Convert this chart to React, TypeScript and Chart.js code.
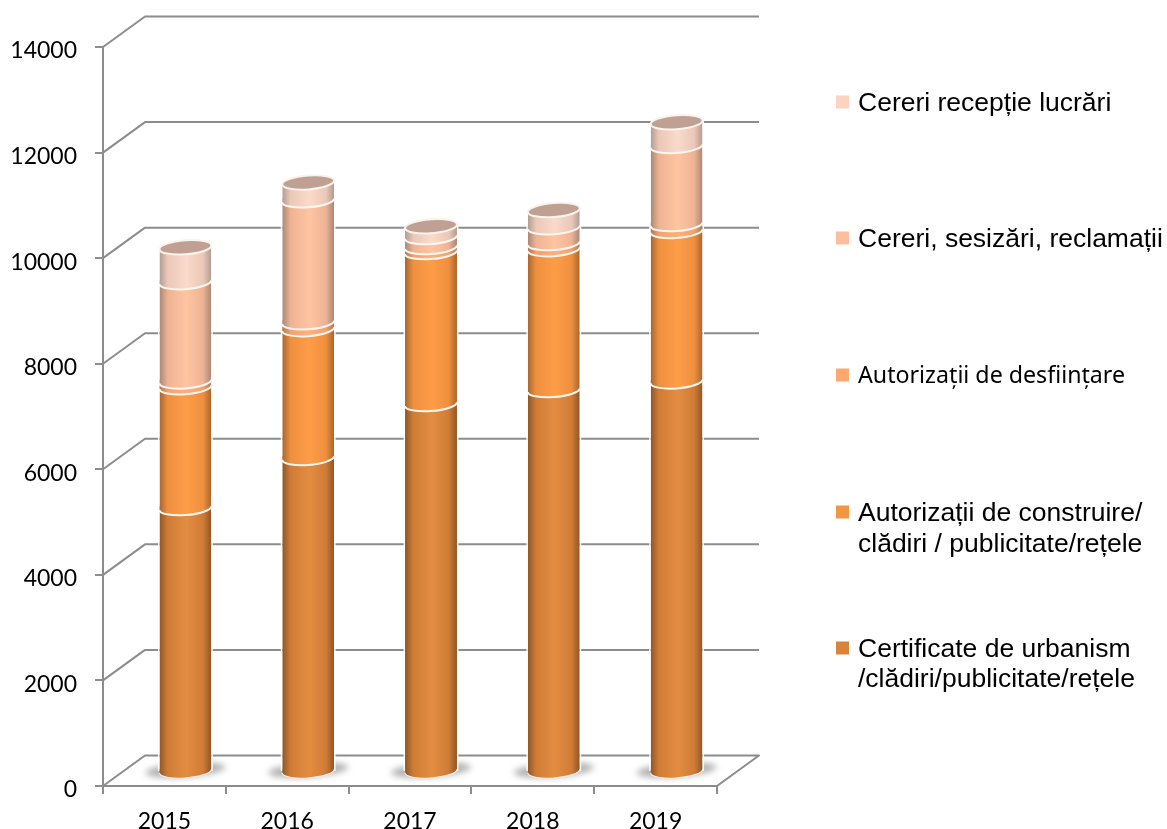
import React, { useEffect, useRef } from "react";
import { Chart, registerables } from "chart.js";

Chart.register(...registerables);

const years = ["2015", "2016", "2017", "2018", "2019"];
const yTickStep = 2000;
const yMax = 14000;

const certificate = [5000, 5950, 6970, 7235, 7400];
const construire = [2290, 2440, 2880, 2670, 2850];
const desfiintare = [110, 130, 95, 115, 130];
const sesizari = [1880, 2310, 190, 300, 1480];
const receptie = [660, 340, 205, 325, 450];

const seriesLabels = [
  "Certificate de urbanism\n/clădiri/publicitate/rețele",
  "Autorizații de construire/\nclădiri / publicitate/rețele",
  "Autorizații de desființare",
  "Cereri, sesizări, reclamații",
  "Cereri recepție lucrări",
];
const seriesValues = [certificate, construire, desfiintare, sesizari, receptie];

const legendColors = ["#D9843B", "#F39644", "#FBA96F", "#FBBFA0", "#FBD3C0"];
const sideColors = ["#8E5626", "#A8662E", "#AE7A55", "#A98774", "#B09C92"];
const midColors = ["#D07C36", "#EE9040", "#F2A270", "#EDB394", "#EBC8B8"];
const centerColors = ["#E38D42", "#FF9C47", "#FFB07A", "#FFC5A2", "#FADACB"];
const legendMarkerY = [648, 512, 375, 238, 102];
const legendBaselines = [[657, 687], [521, 552], [383], [247], [111]];
const legendFonts = [
  '26.5px "Liberation Sans"',
  '26.5px "Liberation Sans"',
  '23.2px "Noto Sans"',
  '26.5px "Liberation Sans"',
  '26.5px "Liberation Sans"',
];

const GRID = "#8C8C8C";
const DX = 42;
const DY = 30.5;
const BAR_DX = 21;
const BAR_DY = -14;
const RY = 7;
const SKEW = -0.07;

function barGradient(ctx: CanvasRenderingContext2D, x: number, w: number, s: number) {
  const g = ctx.createLinearGradient(x - w / 2, 0, x + w / 2, 0);
  g.addColorStop(0, sideColors[s]);
  g.addColorStop(0.16, midColors[s]);
  g.addColorStop(0.52, centerColors[s]);
  g.addColorStop(0.84, midColors[s]);
  g.addColorStop(1, sideColors[s]);
  return g;
}

function skewEllipse(ctx: CanvasRenderingContext2D, x: number, y: number, rx: number, ry: number, a: number, b: number) {
  ctx.save();
  ctx.translate(x, y);
  ctx.transform(1, SKEW, 0, 1, 0, 0);
  ctx.ellipse(0, 0, rx, ry, 0, a, b);
  ctx.restore();
}

const cylinderPlugin = {
  id: "cylinder3d",
  beforeDatasetsDraw(chart: any) {
    const { ctx, scales } = chart;
    const yS = scales.y;
    const xS = scales.x;
    ctx.save();
    ctx.strokeStyle = GRID;
    ctx.lineWidth = 2;
    ctx.lineJoin = "round";
    for (let v = 0; v <= yMax; v += yTickStep) {
      const y = yS.getPixelForValue(v);
      ctx.beginPath();
      ctx.moveTo(xS.left, y);
      ctx.lineTo(xS.left + DX, y - DY);
      ctx.lineTo(xS.right + DX, y - DY);
      if (v === 0) ctx.lineTo(xS.right, y);
      ctx.stroke();
    }
    ctx.restore();

    ctx.save();
    ctx.translate(BAR_DX, BAR_DY);
    const base = chart.getDatasetMeta(0).data;
    ctx.filter = "blur(3px)";
    ctx.fillStyle = "rgba(125,125,125,0.6)";
    base.forEach((el: any) => {
      ctx.beginPath();
      skewEllipse(ctx, el.x, el.base - 1, 40, 7, 0, Math.PI * 2);
      ctx.fill();
    });
    ctx.filter = "none";
    ctx.beginPath();
    const top = chart.getDatasetMeta(seriesValues.length - 1).data;
    top.forEach((el: any, i: number) => {
      const w = el.width / 2;
      const s = w * SKEW;
      ctx.moveTo(el.x - w, el.y - s);
      ctx.lineTo(el.x + w, el.y + s);
      ctx.lineTo(el.x + w, base[i].base + 5);
      ctx.lineTo(el.x - w, base[i].base + 5);
      ctx.closePath();
    });
    ctx.save();
    ctx.clip();
  },
  afterDatasetsDraw(chart: any) {
    const { ctx } = chart;
    ctx.restore();
    const n = seriesValues.length;
    for (let s = 0; s < n; s++) {
      chart.getDatasetMeta(s).data.forEach((el: any) => {
        const w = el.width / 2;
        ctx.fillStyle = barGradient(ctx, el.x, el.width, s);
        ctx.beginPath();
        skewEllipse(ctx, el.x, el.base, w, RY, 0, Math.PI);
        ctx.lineTo(el.x - w, el.base - 2);
        ctx.lineTo(el.x + w, el.base - 2);
        ctx.closePath();
        ctx.fill();
        ctx.strokeStyle = s === 0 ? "#FBEFE4" : "#FDF6EF";
        ctx.lineWidth = s === 0 ? 1.2 : 2;
        ctx.beginPath();
        skewEllipse(ctx, el.x, el.base, w, RY, 0, Math.PI);
        ctx.stroke();
      });
    }
    const top = chart.getDatasetMeta(n - 1).data;
    top.forEach((el: any, i: number) => {
      const w = el.width / 2;
      const bottom = chart.getDatasetMeta(0).data[i].base;
      ctx.strokeStyle = "rgba(255,255,255,0.9)";
      ctx.lineWidth = 1.5;
      ctx.beginPath();
      ctx.moveTo(el.x - w - 0.7, el.y + 2);
      ctx.lineTo(el.x - w - 0.7, bottom);
      ctx.moveTo(el.x + w + 0.7, el.y - 2);
      ctx.lineTo(el.x + w + 0.7, bottom);
      ctx.stroke();
      ctx.beginPath();
      skewEllipse(ctx, el.x, el.y, w, RY, 0, Math.PI * 2);
      ctx.fillStyle = "#BFA092";
      ctx.fill();
      ctx.strokeStyle = "#FBF3EE";
      ctx.lineWidth = 2;
      ctx.stroke();
    });
    ctx.restore();
  },
  afterDraw(chart: any) {
    const { ctx } = chart;
    ctx.save();
    ctx.textAlign = "left";
    ctx.textBaseline = "alphabetic";
    chart.data.datasets.forEach((ds: any, s: number) => {
      ctx.fillStyle = legendColors[s];
      ctx.fillRect(836, legendMarkerY[s] - 6.5, 13, 13);
      ctx.fillStyle = "#000";
      ctx.font = legendFonts[s];
      String(ds.label)
        .split("\n")
        .forEach((line: string, l: number) => {
          ctx.fillText(line, 858, legendBaselines[s][l]);
        });
    });
    ctx.restore();
  },
};

export default function App() {
  const ref = useRef<HTMLCanvasElement>(null);
  useEffect(() => {
    const chart = new Chart(ref.current as HTMLCanvasElement, {
      type: "bar",
      data: {
        labels: years,
        datasets: seriesValues.map((data, s) => ({
          label: seriesLabels[s],
          data,
          backgroundColor: (c: any) => {
            const ch = c.chart;
            const x = ch.scales.x && c.dataIndex !== undefined ? ch.scales.x.getPixelForValue(c.dataIndex) : NaN;
            if (!Number.isFinite(x)) return legendColors[s];
            return barGradient(ch.ctx, x, 52, s);
          },
          borderWidth: 0,
          barPercentage: 52 / 122.8,
          categoryPercentage: 1,
        })),
      },
      options: {
        animation: false,
        responsive: false,
        layout: { padding: { top: 47, right: 450, left: 0, bottom: 0 } },
        plugins: { legend: { display: false }, tooltip: { enabled: false } },
        scales: {
          x: {
            stacked: true,
            afterFit: (s: any) => {
              s.height = 43;
            },
            border: { color: GRID, width: 2 },
            grid: { drawOnChartArea: false, color: GRID, lineWidth: 2, tickLength: 8 },
            ticks: { color: "#000", font: { family: "Lato", size: 23 }, padding: 14, maxRotation: 0 },
          },
          y: {
            stacked: true,
            min: 0,
            max: yMax,
            afterFit: (s: any) => {
              s.width = 103;
            },
            border: { color: GRID, width: 2 },
            grid: { drawOnChartArea: false, color: GRID, lineWidth: 2, tickLength: 8 },
            ticks: {
              stepSize: yTickStep,
              color: "#000",
              font: { family: "Lato", size: 23 },
              padding: 18,
              labelOffset: 4,
              callback: (v: any) => String(v),
            },
          },
        },
      },
      plugins: [cylinderPlugin],
    } as any);
    return () => chart.destroy();
  }, []);
  return (
    <div style={{ position: "absolute", left: 0, top: 0, width: 1167, height: 829 }}>
      <canvas ref={ref} width={1167} height={829} style={{ display: "block" }} />
    </div>
  );
}
